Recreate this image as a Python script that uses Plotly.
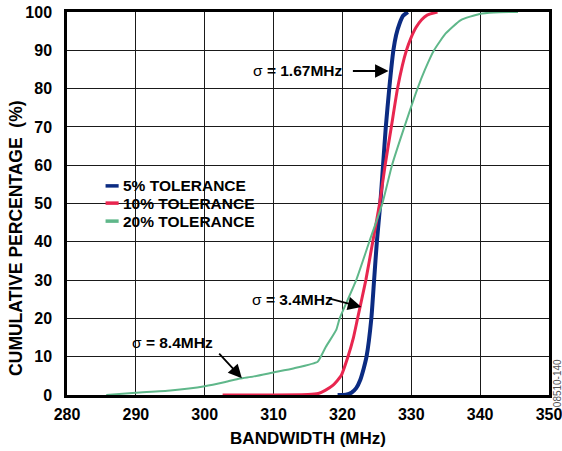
import plotly.graph_objects as go

# ---- data ----
series_names = ["5% TOLERANCE", "10% TOLERANCE", "20% TOLERANCE"]
series_colors = ["#0b2b82", "#e8264f", "#5fb78a"]

blue_x = [319.3, 320.5, 321.3, 322.0, 322.6, 323.1, 323.5, 324.2, 324.6, 325.0, 325.5,
          325.9, 326.3, 326.8, 327.4, 327.8, 328.3, 328.8, 329.5]
blue_y = [0, 0.1, 0.6, 1.8, 4, 7, 10, 20, 30, 40, 50, 60, 70, 80, 90, 94, 97, 99, 100]

red_x = [302.6, 310, 315, 316.5, 317.5, 318.6, 319.8, 320.8, 321.6, 322.2, 323.4, 324.4,
         325.4, 326.2, 327.1, 328.0, 328.7, 329.3, 329.9, 330.7, 331.5, 332.3, 333.8]
red_y = [0, 0, 0.1, 0.4, 1.2, 2.5, 5, 10, 15, 20, 30, 40, 50, 60, 70, 80, 86, 90, 93,
         96, 98, 99.2, 100]

green_x = [285.7, 290, 295, 300, 303, 305.1, 307, 310, 313, 316.4, 317.0, 317.6, 319.1,
           319.6, 322.0, 323.9, 325.8, 327.2, 329.0, 330.9, 332.0, 333.3, 335.0, 337.2,
           339.9, 342, 344.2, 345.5]
green_y = [0, 0.6, 1.2, 2.3, 3.4, 4.3, 4.8, 5.9, 7.0, 8.7, 10.5, 12.6, 17, 20, 30, 40,
           50, 60, 70, 80, 85, 90, 94.4, 97.9, 99.5, 99.9, 100, 100]

x_ticks = [280, 290, 300, 310, 320, 330, 340, 350]
y_ticks = [0, 10, 20, 30, 40, 50, 60, 70, 80, 90, 100]

sigma_labels = ["1.67MHz", "3.4MHz", "8.4MHz"]
y_title = "CUMULATIVE PERCENTAGE  (%)"
x_title = "BANDWIDTH (MHz)"

FONT = "Liberation Sans, Arial, sans-serif"

fig = go.Figure()
widths = [4, 3, 2]
for xs, ys, name, col, w in zip([blue_x, red_x, green_x], [blue_y, red_y, green_y],
                                series_names, series_colors, widths):
    fig.add_trace(go.Scatter(x=xs, y=ys, mode="lines", name=name,
                             line=dict(color=col, width=w, shape="spline", smoothing=0.5),
                             showlegend=False, hoverinfo="skip"))

# manual legend
leg_y = [54.6, 50.1, 45.4]
for name, col, ly in zip(series_names, series_colors, leg_y):
    fig.add_shape(type="line", xref="x", yref="y", x0=285.6, x1=287.5, y0=ly, y1=ly,
                  line=dict(color=col, width=3.5))
    fig.add_annotation(xref="x", yref="y", x=287.9, y=ly, text="<b>" + name + "</b>",
                       showarrow=False, xanchor="left", yanchor="middle",
                       font=dict(family=FONT, size=15.5, color="black"))

# sigma annotations: (text x, text y, arrow tail x, tail y, head x, head y)
ann = [
    (313.5, 84.6, 321.3, 84.6, 326.7, 84.6),
    (312.8, 25.0, 317.8, 25.3, 322.75, 23.0),
    (295.3, 13.6, 301.9, 11.2, 305.4, 4.4),
]
for lab, (tx, ty, ax, ay, hx, hy) in zip(sigma_labels, ann):
    fig.add_annotation(xref="x", yref="y", x=tx, y=ty,
                       text="σ<b> = " + lab + "</b>", showarrow=False,
                       font=dict(family=FONT, size=15.5, color="black"))
    fig.add_annotation(xref="x", yref="y", x=hx, y=hy, ax=ax, ay=ay,
                       axref="x", ayref="y", text="", showarrow=True,
                       arrowhead=2, arrowsize=1.5, arrowwidth=1.8, arrowcolor="black")

# y-axis title as annotation (shifted slightly below centre like the reference)
fig.add_annotation(xref="paper", yref="paper", x=-0.106, y=0.41,
                   text="<b>" + y_title + "</b>", textangle=-90, showarrow=False,
                   xanchor="center", yanchor="middle",
                   font=dict(family=FONT, size=17.5, color="black"))

# side code
fig.add_annotation(xref="paper", yref="paper", x=1.018, y=0.03, text="08510-140",
                   textangle=-90, showarrow=False, xanchor="center", yanchor="middle",
                   font=dict(family=FONT, size=10, color="#555"))

axis_common = dict(showgrid=True, gridcolor="#1a1a1a", gridwidth=1.3,
                   showline=True, linecolor="black", linewidth=2.5, mirror=True,
                   zeroline=False, ticks="", automargin=False, ticklabeloverflow="allow",
                   tickfont=dict(family=FONT, size=16, color="black", weight="bold"),
                   title_font=dict(family=FONT, size=17, color="black", weight="bold"))

fig.update_xaxes(range=[280, 350], tickvals=x_ticks, ticktext=[str(v) for v in x_ticks],
                 title_text=x_title, title_standoff=11,
                 ticklabelstandoff=3, **axis_common)
fig.update_yaxes(range=[0, 100], tickvals=y_ticks, ticktext=[str(v) for v in y_ticks],
                 ticklabelstandoff=9, **axis_common)

fig.update_layout(width=562, height=451, autosize=False,
                  margin=dict(l=67, r=13, t=12, b=56),
                  plot_bgcolor="white", paper_bgcolor="white",
                  font=dict(family=FONT, color="black"), hovermode=False)

fig.write_html("out.html", config={"displayModeBar": False},
               post_script="document.body.style.margin='0';document.body.style.overflow='hidden';")
